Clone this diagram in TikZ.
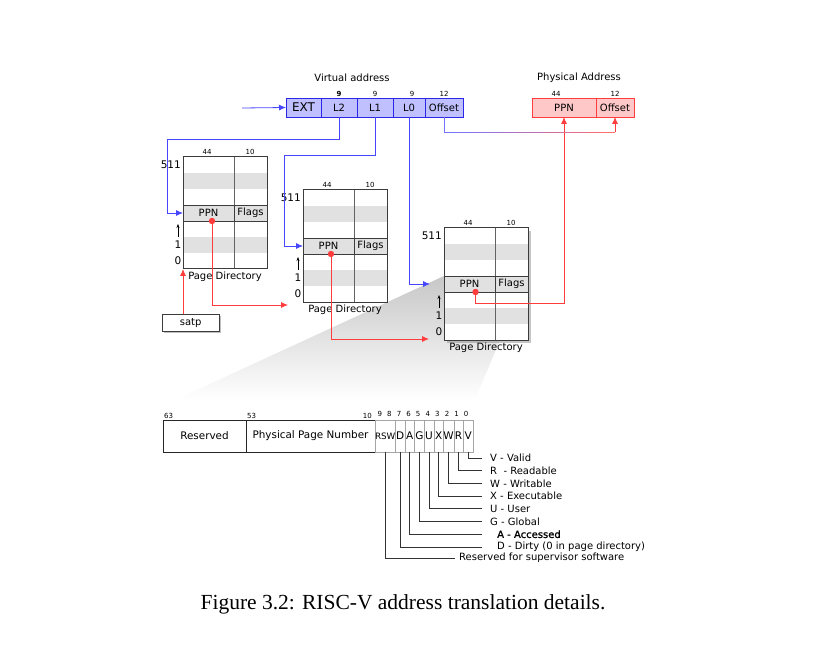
\documentclass[tikz,border=0pt]{standalone}
\usepackage{fontspec}
\setmainfont{DejaVu Sans}
\newfontfamily\capfont{Liberation Serif}
\newfontfamily\heavyfont[FakeBold=1.2]{DejaVu Sans}
\usetikzlibrary{positioning,arrows.meta,shadows,backgrounds,calc}

\definecolor{vblue}{RGB}{70,70,255}
\definecolor{vfill}{RGB}{192,192,255}
\definecolor{vedge}{RGB}{40,40,230}
\definecolor{pred}{RGB}{255,60,60}
\definecolor{pfill}{RGB}{255,200,200}
\definecolor{rowgray}{RGB}{225,225,225}
\definecolor{pdline}{RGB}{60,60,60}
\definecolor{bitline}{RGB}{165,165,165}

\tikzset{
  vbox/.style={draw=vedge, fill=vfill, minimum height=19pt, inner sep=0pt, outer sep=0pt, font=\fontsize{10}{12}\selectfont},
  pbox/.style={draw=pred, fill=pfill, minimum height=19pt, inner sep=0pt, outer sep=0pt, font=\fontsize{10}{12}\selectfont},
  bitnum/.style={font=\fontsize{7}{8}\selectfont, inner sep=1pt},
  headlbl/.style={font=\fontsize{10}{12}\selectfont, inner sep=1pt},
  pdframe/.style={minimum width=84pt, minimum height=112pt, anchor=north west, inner sep=0pt, outer sep=0pt},
  pprow/.style={draw=pdline, fill=rowgray, minimum height=16pt, inner sep=0pt, outer sep=0pt, anchor=north west, font=\fontsize{10}{12}\selectfont},
  rowlbl/.style={font=\fontsize{10.5}{12}\selectfont, inner sep=0pt},
  vline/.style={draw=vblue, line width=0.8pt, -{Latex[length=7pt,width=6pt]}},
  rline/.style={draw=pred, line width=0.8pt, -{Latex[length=7pt,width=6pt]}},
  ptebox/.style={draw=black!85, fill=white, minimum height=32pt, inner sep=0pt, outer sep=0pt, font=\fontsize{10.4}{12}\selectfont},
  bitcell/.style={draw=bitline, fill=white, minimum width=9.6pt, minimum height=32pt, inner sep=0pt, outer sep=0pt, font=\fontsize{10.5}{12}\selectfont},
  leader/.style={draw=black!80, line width=0.7pt},
  flaglbl/.style={anchor=west, inner sep=0pt, font=\fontsize{10}{12}\selectfont},
}

\begin{document}
\begin{tikzpicture}[x=1pt, y=-1pt]
\useasboundingbox (0,0) rectangle (833,647);

% virtual address
\node[headlbl] (vtitle) at (352,78) {Virtual address};
\node[vbox, minimum width=35pt, anchor=north west, font=\fontsize{12}{14}\selectfont] (ext) at (286,98) {EXT};
\node[vbox, minimum width=36pt, right=0pt of ext, label={[bitnum, font=\bfseries\fontsize{7}{8}\selectfont]above:9}] (l2) {L2};
\node[vbox, minimum width=36pt, right=0pt of l2, label={[bitnum]above:9}] (l1) {L1};
\node[vbox, minimum width=32pt, right=0pt of l1, label={[bitnum, xshift=3pt]above:9}] (l0) {L0};
\node[vbox, minimum width=38pt, right=0pt of l0, label={[bitnum]above:12}] (voff) {Offset};
\coordinate (vin) at (242,108);
\draw[vline] (vin) -- (ext.west);

% physical address
\node[headlbl] (ptitle) at (579,78) {Physical Address};
\node[pbox, minimum width=64pt, anchor=north west, label={[bitnum, xshift=-8pt]above:44}] (pppn) at (532,98) {PPN};
\node[pbox, minimum width=38pt, right=0pt of pppn, label={[bitnum]above:12}] (poff) {Offset};

% page directories
\node[pdframe, fill=white, drop shadow={shadow xshift=3pt, shadow yshift=-3pt, opacity=0.45}] at (444,228) {};
\foreach \n/\x/\y/\d in {a/183/157/3.5, b/303/190/2.5, c/444/228/6} {
  \node[pdframe, fill=white] (pd\n) at (\x,\y) {};
  \fill[rowgray] (\x,\y+16) rectangle ++(84,16);
  \fill[rowgray] (\x,\y+80) rectangle ++(84,16);
  \draw[pdline!80, line width=0.8pt] (\x+51,\y) -- (\x+51,\y+112);
  \node[pprow, minimum width=51pt] (ppn\n) at (\x,\y+48) {PPN};
  \node[pprow, minimum width=33pt, right=0pt of ppn\n] (flags\n) {Flags};
  \draw[pdline, line width=1pt] (pd\n.north west) rectangle (pd\n.south east);
  \node[rowlbl, anchor=east] at (\x-2,\y+8) {511};
  \node[rowlbl] at (\x-5,\y+88) {1};
  \node[rowlbl] at (\x-5,\y+104) {0};
  \draw[-{Stealth[length=4pt,width=3pt]}, line width=0.5pt] (\x-5,\y+80) -- (\x-5,\y+67);
  \node[bitnum] at (\x+24,\y-5) {44};
  \node[bitnum] at (\x+67,\y-5) {10};
  \node[headlbl, below=2pt of pd\n] {Page Directory};
  \coordinate (dot\n) at ([xshift=\d pt]ppn\n.south);
}

% zoom wedge
\begin{scope}[on background layer]
  \shade[top color=black!22, bottom color=white] (ppnc.north west) -- ([xshift=-8pt]flagsc.south east) -- (475,400) -- (175,400) -- cycle;
\end{scope}

\node[draw=pdline, fill=white, minimum width=57pt, minimum height=17pt, inner sep=0pt, anchor=north west, font=\fontsize{10}{12}\selectfont, drop shadow={shadow xshift=2pt, shadow yshift=-2pt, opacity=0.5}] (satp) at (162,314) {satp};

% index connectors
\draw[vline] (l2.south) -- ++(0,22) -| ([xshift=-16pt]ppna.west) -- (ppna.west);
\draw[vline] (l1.south) -- ++(0,38) -| ([xshift=-19pt]ppnb.west) -- (ppnb.west);
\draw[vline] (l0.south) |- ([xshift=-14pt]ppnc.west);

% ppn connectors
\draw[rline] (satp.north -| pda.south west) -- (pda.south west);
\draw[rline] (dota) |- ([xshift=-15pt, yshift=-3pt]pdb.south west);
\draw[rline] (dotb) |- ([xshift=-15pt, yshift=1pt]pdc.south west);
\draw[rline] (dotc) -- ++(0,11) -| (pppn.south);
\foreach \n in {a,b,c}
  \fill[pred] (dot\n) circle (3.2pt);

% offset
\coordinate (offa) at ([yshift=-15pt]voff.south);
\coordinate (offb) at (offa -| poff.south);
\draw[vblue!75, line width=0.8pt] (voff.south) -- (offa);
\foreach \i [evaluate=\i as \p using int(100*\i/11)] in {0,...,11}
  \draw[line width=0.8pt, draw=pred!\p!vblue!75] ($(offa)!{\i/12}!(offb)$) -- ($(offa)!{(\i+1)/12}!(offb)$);
\draw[rline] (offb) -- (poff.south);

% page table entry
\node[ptebox, minimum width=83pt, anchor=north west] (resv) at (163,420) {Reserved};
\node[ptebox, minimum width=129pt, right=0pt of resv] (ppnf) {Physical Page Number};
\node[bitcell, minimum width=19.2pt, right=0pt of ppnf, font=\fontsize{8.8}{10}\selectfont] (brsw) {RSW};
\foreach \b [remember=\b as \prev (initially rsw)] in {D,A,G,U,X,W,R,V}
  \node[bitcell, right=0pt of b\prev] (b\b) {\b};
\node[bitnum, anchor=south west] at (resv.north west) {63};
\node[bitnum, anchor=south west] at (ppnf.north west) {53};
\node[bitnum, anchor=south east] at ([xshift=-2pt]ppnf.north east) {10};
\foreach \i in {0,...,9}
  \node[bitnum] at (466.2-9.6*\i,414) {\i};

% flag legend
\foreach \b/\txt/\k/\dx in {V/{V - Valid}/0/0, R/{R\ \ - Readable}/1/0, W/{W - Writable}/2/0, X/{X - Executable}/3/0, U/{U - User}/4/0, G/{G - Global}/5/0, A/{\heavyfont A - Accessed}/6/7, D/{D - Dirty (0 in page directory)}/7/7} {
  \node[flaglbl] (l\b) at (490+\dx,458+12.7*\k) {\txt};
  \draw[leader] (b\b.south) |- ([xshift={-(8+\dx)*1pt}]l\b.west);
}
\node[flaglbl] (lrsw) at (459,558) {Reserved for supervisor software};
\draw[leader] (brsw.south) |- ([xshift=-4pt]lrsw.west);

\node[font=\capfont\fontsize{21.5}{26}\selectfont] (cap) at (403,604) {Figure 3.2: RISC-V address translation details.};
\end{tikzpicture}
\end{document}
